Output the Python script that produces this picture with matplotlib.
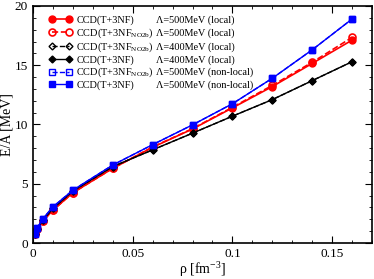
import matplotlib
matplotlib.use("Agg")
from matplotlib import pyplot as plt
from matplotlib.ticker import MultipleLocator

plt.rcParams['font.family'] = ['Liberation Serif', 'DejaVu Serif']
plt.rcParams['mathtext.fontset'] = 'custom'
plt.rcParams['mathtext.rm'] = 'Liberation Serif'
plt.rcParams['mathtext.it'] = 'Liberation Serif'

rho = [0.001, 0.002, 0.005, 0.01, 0.02, 0.04, 0.06, 0.08, 0.10, 0.12, 0.14, 0.16]

red_full = [0.75, 1.15, 1.86, 2.77, 4.24, 6.30, 8.08, 9.62, 11.40, 13.20, 15.15, 17.12]
red_no2b = [0.75, 1.15, 1.86, 2.77, 4.24, 6.30, 8.10, 9.65, 11.45, 13.30, 15.25, 17.35]
black_no2b = [0.78, 1.20, 1.95, 2.92, 4.38, 6.45, 7.86, 9.27, 10.70, 12.10, 13.70, 15.30]
black_full = [0.78, 1.20, 1.95, 2.92, 4.38, 6.45, 7.86, 9.27, 10.70, 12.10, 13.70, 15.30]
blue_no2b = [0.79, 1.24, 2.06, 3.05, 4.46, 6.58, 8.30, 9.97, 11.75, 13.90, 16.30, 18.90]
blue_full = [0.79, 1.24, 2.06, 3.05, 4.46, 6.58, 8.30, 9.97, 11.75, 13.90, 16.30, 18.90]

labels = ["CCD(T+3NF)",
          "CCD(T+3NF$_{\\mathrm{NO2b}}$)",
          "CCD(T+3NF$_{\\mathrm{NO2b}}$)",
          "CCD(T+3NF)",
          "CCD(T+3NF$_{\\mathrm{NO2b}}$)",
          "CCD(T+3NF)"]
cutoffs = ["Λ=500MeV (local)",
           "Λ=500MeV (local)",
           "Λ=400MeV (local)",
           "Λ=400MeV (local)",
           "Λ=500MeV (non-local)",
           "Λ=500MeV (non-local)"]

fig = plt.figure(figsize=(3.74, 2.79), dpi=100)
ax = fig.add_axes([33 / 374, 1 - 243 / 279, 339 / 374, 237 / 279])

ax.plot(rho, red_full, color='red', ls='-', marker='o', ms=5, lw=1.2, label=labels[0])
ax.plot(rho, red_no2b, color='red', ls='--', marker='o', ms=5, mfc='none', mew=1.2, lw=1.2, label=labels[1])
ax.plot(rho, black_no2b, color='black', ls='--', marker='D', ms=3.5, mfc='none', lw=1.0, label=labels[2])
ax.plot(rho, black_full, color='black', ls='-', marker='D', ms=3.5, lw=1.0, label=labels[3])
ax.plot(rho, blue_no2b, color='blue', ls='--', marker='s', ms=5, mfc='none', lw=1.0, label=labels[4])
ax.plot(rho, blue_full, color='blue', ls='-', marker='s', ms=5, lw=1.0, label=labels[5])

ax.set_xlim(0, 0.17)
ax.set_ylim(0, 20)
ax.xaxis.set_major_locator(MultipleLocator(0.05))
ax.xaxis.set_minor_locator(MultipleLocator(0.01))
ax.yaxis.set_major_locator(MultipleLocator(5))
ax.yaxis.set_minor_locator(MultipleLocator(1))
ax.set_xticks([0, 0.05, 0.1, 0.15])
ax.set_xticklabels(["0", "0.05", "0.1", "0.15"])
ax.tick_params(which='both', direction='in', top=True, right=True, labelsize=9.5)
ax.tick_params(which='major', length=5)
ax.tick_params(which='minor', length=2.5)
for s in ax.spines.values():
    s.set_linewidth(1.2)

ax.set_xlabel("ρ [fm$^{-3}$]", fontsize=10, labelpad=0)
ax.set_ylabel("E/A [MeV]", fontsize=10, labelpad=1)

leg = ax.legend(loc='upper left', frameon=False, fontsize=7.4, numpoints=2,
                handlelength=2.3, handletextpad=0.4, labelspacing=0.1,
                borderaxespad=0.3, bbox_to_anchor=(0.025, 0.99))

# second column of the legend
fig.canvas.draw()
texts = leg.get_texts()
inv = ax.transAxes.inverted()
for t, c in zip(texts, cutoffs):
    bb = t.get_window_extent()
    yc = inv.transform((0, (bb.y0 + bb.y1) / 2))[1]
    ax.text(0.362, yc, c, transform=ax.transAxes, fontsize=7.4, va='center')

fig.savefig("out.png", dpi=100)
